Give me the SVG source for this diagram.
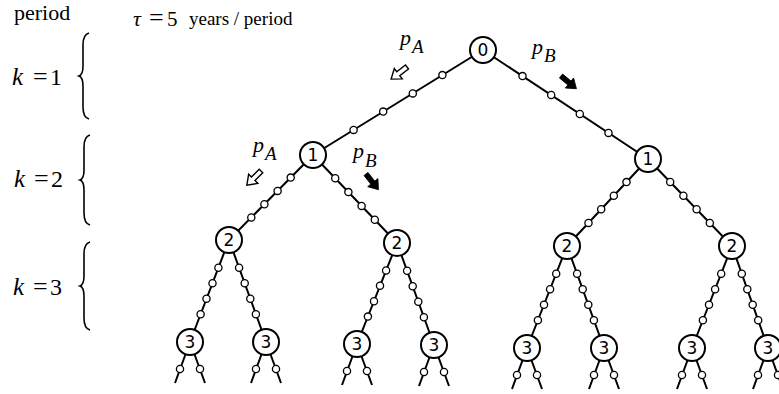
<svg xmlns="http://www.w3.org/2000/svg" xmlns:xlink="http://www.w3.org/1999/xlink" width="779" height="394" viewBox="0 0 779 394">
<style>
.edge{stroke:#000;stroke-width:2;fill:none}
.bead{fill:#fff;stroke:#000;stroke-width:1.3}
.node circle{fill:#fff;stroke:#000;stroke-width:2}
.node text{font-family:"DejaVu Sans",sans-serif;font-size:17px;text-anchor:middle;fill:#000}
.brace{fill:none;stroke:#000;stroke-width:1.6}
.hollow{fill:#fff;stroke:#000;stroke-width:1.4;stroke-linejoin:miter}
.filled{fill:#000;stroke:#000;stroke-width:0.8}
</style>
<defs>
<path id="arr" d="M0,-2.5 L11,-2.5 L11,-6.5 L20,0 L11,6.5 L11,2.5 L0,2.5 Z"/>
</defs>
<rect width="779" height="394" fill="#fff"/>

<g id="labels" font-family="'Liberation Serif', 'Times New Roman', serif" fill="#000">
<text x="14" y="20" font-size="22">period</text>
<text x="133" y="26" font-size="22" font-style="italic">τ</text>
<text x="149" y="26" font-size="26">=</text>
<text x="167" y="26" font-size="21">5</text>
<text x="189" y="25" font-size="19">years / period</text>

<text x="12" y="85" font-size="25" font-style="italic">k</text>
<text x="33" y="85" font-size="26">=</text>
<text x="50" y="85" font-size="24">1</text>
<text x="14" y="187" font-size="25" font-style="italic">k</text>
<text x="34" y="187" font-size="26">=</text>
<text x="51" y="187" font-size="24">2</text>
<text x="13" y="295" font-size="25" font-style="italic">k</text>
<text x="33" y="295" font-size="26">=</text>
<text x="50" y="295" font-size="24">3</text>

<path class="brace" d="M89,33 C85,34 83,38 83,45 L83,66 C83,72 82,75 79,76 C82,77 83,80 83,86 L83,107 C83,114 85,118 89,119"/>
<path class="brace" d="M90,135 C86,136 84,140 84,147 L84,170 C84,176 83,179 80,180 C83,181 84,184 84,190 L84,213 C84,220 86,224 90,225"/>
<path class="brace" d="M90,242 C86,243 84,247 84,254 L84,276 C84,282 83,285 80,286 C83,287 84,290 84,296 L84,318 C84,325 86,329 90,330"/>

<text x="400" y="45" font-size="22" font-style="italic">p</text>
<text x="412" y="53" font-size="19" font-style="italic">A</text>
<text x="532" y="54" font-size="22" font-style="italic">p</text>
<text x="544" y="62" font-size="19" font-style="italic">B</text>
<text x="253" y="152" font-size="22" font-style="italic">p</text>
<text x="265" y="160" font-size="19" font-style="italic">A</text>
<text x="353" y="158" font-size="22" font-style="italic">p</text>
<text x="365" y="167" font-size="19" font-style="italic">B</text>

<use xlink:href="#arr" class="hollow" transform="translate(407,67) rotate(142.6)"/>
<use xlink:href="#arr" class="filled" transform="translate(561,76) rotate(39.5)"/>
<use xlink:href="#arr" class="hollow" transform="translate(261,171) rotate(135)"/>
<use xlink:href="#arr" class="filled" transform="translate(366,174) rotate(51.7)"/>
</g>

<g id="connectors">
<path class="edge" d="M483,50 L313,155 M483,50 L648,159
M313,155 L229,240 M313,155 L397,243 M648,159 L567,246 M648,159 L732,246
M229,240 L190,342 M229,240 L266,342 M397,243 L357,344 M397,243 L434,345
M567,246 L527,348 M567,246 L604,348 M732,246 L692,348 M732,246 L768,348
M190,342 L175,383 M190,342 L205,383 M266,342 L251,383 M266,342 L281,383
M357,344 L342,385 M357,344 L372,385 M434,345 L419,386 M434,345 L449,386
M527,348 L512,389 M527,348 L542,389 M604,348 L589,389 M604,348 L619,389
M692,348 L677,389 M692,348 L707,389 M768,348 L753,389 M768,348 L783,389"/>
<g class="bead">
<circle cx="442.4" cy="75.1" r="3.6"/><circle cx="412.8" cy="93.4" r="3.6"/><circle cx="383.2" cy="111.6" r="3.6"/><circle cx="353.6" cy="129.9" r="3.6"/>
<circle cx="522.5" cy="76.1" r="3.6"/><circle cx="551.2" cy="95.0" r="3.6"/><circle cx="579.8" cy="114.0" r="3.6"/><circle cx="608.5" cy="132.9" r="3.6"/>
<circle cx="290.7" cy="177.6" r="3.6"/><circle cx="277.6" cy="190.9" r="3.6"/><circle cx="264.4" cy="204.2" r="3.6"/><circle cx="251.3" cy="217.5" r="3.6"/>
<circle cx="335.2" cy="178.2" r="3.6"/><circle cx="348.4" cy="192.1" r="3.6"/><circle cx="361.6" cy="205.9" r="3.6"/><circle cx="374.8" cy="219.8" r="3.6"/>
<circle cx="626.5" cy="182.1" r="3.6"/><circle cx="613.8" cy="195.7" r="3.6"/><circle cx="601.2" cy="209.3" r="3.6"/><circle cx="588.5" cy="222.9" r="3.6"/>
<circle cx="670.2" cy="182.0" r="3.6"/><circle cx="683.4" cy="195.7" r="3.6"/><circle cx="696.6" cy="209.3" r="3.6"/><circle cx="709.8" cy="223.0" r="3.6"/>
<circle cx="218.4" cy="267.7" r="3.6"/><circle cx="212.5" cy="283.2" r="3.6"/><circle cx="206.5" cy="298.8" r="3.6"/><circle cx="200.6" cy="314.3" r="3.6"/>
<circle cx="239.1" cy="267.7" r="3.6"/><circle cx="244.7" cy="283.3" r="3.6"/><circle cx="250.3" cy="298.8" r="3.6"/><circle cx="255.9" cy="314.3" r="3.6"/>
<circle cx="386.1" cy="270.5" r="3.6"/><circle cx="380.0" cy="285.8" r="3.6"/><circle cx="374.0" cy="301.2" r="3.6"/><circle cx="367.9" cy="316.6" r="3.6"/>
<circle cx="407.1" cy="270.7" r="3.6"/><circle cx="412.7" cy="286.3" r="3.6"/><circle cx="418.3" cy="301.8" r="3.6"/><circle cx="423.9" cy="317.3" r="3.6"/>
<circle cx="556.2" cy="273.7" r="3.6"/><circle cx="550.1" cy="289.2" r="3.6"/><circle cx="544.0" cy="304.8" r="3.6"/><circle cx="537.9" cy="320.3" r="3.6"/>
<circle cx="577.1" cy="273.7" r="3.6"/><circle cx="582.7" cy="289.3" r="3.6"/><circle cx="588.3" cy="304.8" r="3.6"/><circle cx="593.9" cy="320.3" r="3.6"/>
<circle cx="721.2" cy="273.7" r="3.6"/><circle cx="715.1" cy="289.2" r="3.6"/><circle cx="709.0" cy="304.8" r="3.6"/><circle cx="702.9" cy="320.3" r="3.6"/>
<circle cx="741.8" cy="273.8" r="3.6"/><circle cx="747.3" cy="289.3" r="3.6"/><circle cx="752.7" cy="304.8" r="3.6"/><circle cx="758.2" cy="320.3" r="3.6"/>
<circle cx="180" cy="369" r="3.6"/><circle cx="200" cy="369" r="3.6"/>
<circle cx="256" cy="369" r="3.6"/><circle cx="276" cy="369" r="3.6"/>
<circle cx="347" cy="371" r="3.6"/><circle cx="367" cy="371" r="3.6"/>
<circle cx="424" cy="372" r="3.6"/><circle cx="444" cy="372" r="3.6"/>
<circle cx="517" cy="375" r="3.6"/><circle cx="537" cy="375" r="3.6"/>
<circle cx="594" cy="375" r="3.6"/><circle cx="614" cy="375" r="3.6"/>
<circle cx="682" cy="375" r="3.6"/><circle cx="702" cy="375" r="3.6"/>
<circle cx="758" cy="375" r="3.6"/><circle cx="778" cy="375" r="3.6"/>
</g>
</g>

<g id="n0" class="node"><circle cx="483" cy="50" r="13"/><text x="483" y="56">0</text></g>
<g id="n1a" class="node"><circle cx="313" cy="155" r="13"/><text x="313" y="161">1</text></g>
<g id="n1b" class="node"><circle cx="648" cy="159" r="13"/><text x="648" y="165">1</text></g>
<g id="n2aa" class="node"><circle cx="229" cy="240" r="13"/><text x="229" y="246">2</text></g>
<g id="n2ab" class="node"><circle cx="397" cy="243" r="13"/><text x="397" y="249">2</text></g>
<g id="n2ba" class="node"><circle cx="567" cy="246" r="13"/><text x="567" y="252">2</text></g>
<g id="n2bb" class="node"><circle cx="732" cy="246" r="13"/><text x="732" y="252">2</text></g>
<g id="n3aaa" class="node"><circle cx="190" cy="342" r="13"/><text x="190" y="348">3</text></g>
<g id="n3aab" class="node"><circle cx="266" cy="342" r="13"/><text x="266" y="348">3</text></g>
<g id="n3aba" class="node"><circle cx="357" cy="344" r="13"/><text x="357" y="350">3</text></g>
<g id="n3abb" class="node"><circle cx="434" cy="345" r="13"/><text x="434" y="351">3</text></g>
<g id="n3baa" class="node"><circle cx="527" cy="348" r="13"/><text x="527" y="354">3</text></g>
<g id="n3bab" class="node"><circle cx="604" cy="348" r="13"/><text x="604" y="354">3</text></g>
<g id="n3bba" class="node"><circle cx="692" cy="348" r="13"/><text x="692" y="354">3</text></g>
<g id="n3bbb" class="node"><circle cx="768" cy="348" r="13"/><text x="768" y="354">3</text></g>
</svg>
